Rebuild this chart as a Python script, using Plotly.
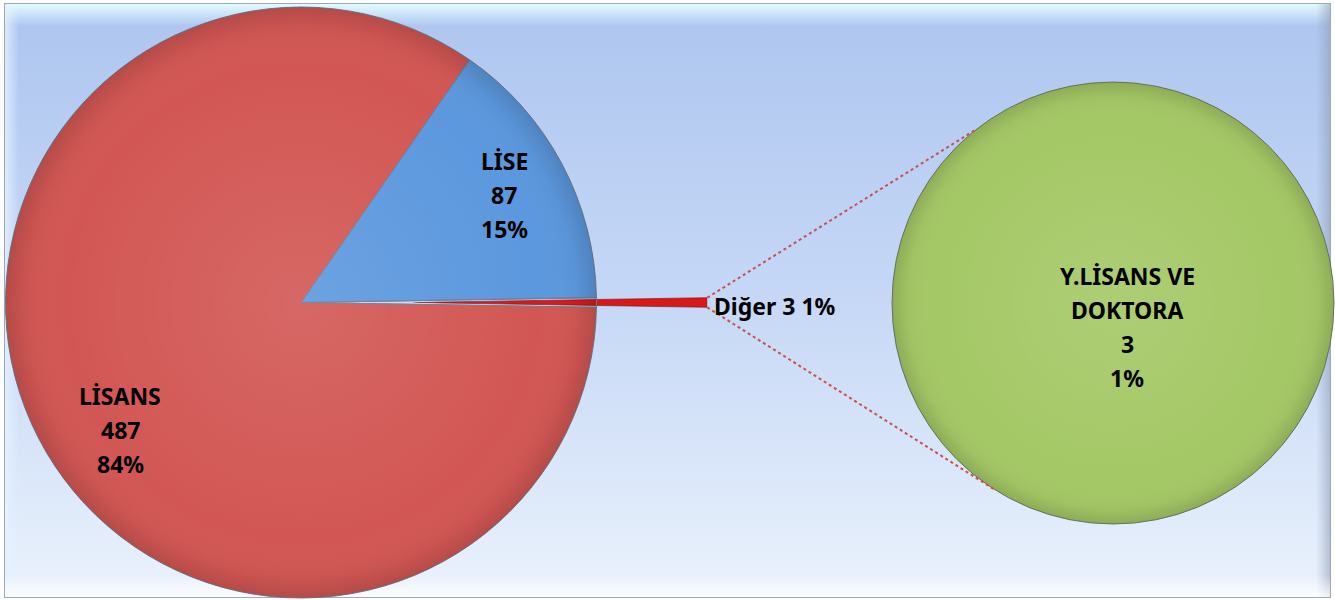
import base64
import math
import plotly.graph_objects as go

W, H = 1335, 600

# ---------------- data ----------------
main_labels = ["LİSE", "Diğer", "LİSANS"]
main_values = [87, 3, 487]
sub_labels = ["Y.LİSANS VE", "DOKTORA"]
sub_values = [3]

total = sum(main_values)
angles = [v / total * 360 for v in main_values]
pcts = [v / total * 100 for v in main_values]
sub_pcts = [v / total * 100 for v in sub_values]

# ---------------- geometry (pixels) ----------------
MAIN_CX, MAIN_CY, MAIN_R = 301, 302.5, 295.5
SUB_CX, SUB_CY, SUB_R = 1113, 303, 221
PULL = 0.375          # explosion of the "Diğer" slice (fraction of radius)
R_OUT = MAIN_R * (1 + PULL)
LINE_PITCH = 34

# LİSE above 3 o'clock, "Diğer" centred at 3 o'clock, LİSANS after (clockwise)
rotation = 90 - angles[1] / 2 - angles[0]


def px(x):
    return x / W


def py(y):
    return 1 - y / H


fig = go.Figure()

fig.add_trace(go.Pie(
    labels=main_labels, values=main_values, sort=False,
    direction="clockwise", rotation=rotation,
    marker=dict(colors=["#5C98DE", "rgba(0,0,0,0)", "#D25754"],
                line=dict(color="#6F7C8E", width=1)),
    textinfo="none", hoverinfo="label+value+percent", showlegend=False,
    domain=dict(x=[px(MAIN_CX - MAIN_R), px(MAIN_CX + MAIN_R)],
                y=[py(MAIN_CY + MAIN_R), py(MAIN_CY - MAIN_R)]),
))

# exploded "Diğer" slice: same slice, its apex moved out by PULL * radius
fig.add_trace(go.Barpolar(
    r=[1], theta=[0], width=[angles[1]],
    marker=dict(color="#D8191C", line=dict(color="#7A0A0A", width=0.6)),
    name=main_labels[1], showlegend=False, subplot="polar",
    hovertext=[f"{main_labels[1]} {main_values[1]}"], hoverinfo="text",
))

fig.add_trace(go.Pie(
    labels=[" ".join(sub_labels)], values=sub_values, sort=False,
    marker=dict(colors=["#A5C866"], line=dict(color="#6F7C6E", width=1)),
    textinfo="none", hoverinfo="label+value", showlegend=False,
    domain=dict(x=[px(SUB_CX - SUB_R), px(SUB_CX + SUB_R)],
                y=[py(SUB_CY + SUB_R), py(SUB_CY - SUB_R)]),
))

# ---------------- labels ----------------
font = dict(family="Noto Sans", size=23, color="#000000")
ann = []


def block(lines, cx, cy):
    n = len(lines)
    for k, t in enumerate(lines):
        y = cy + (k - (n - 1) / 2) * LINE_PITCH
        ann.append(dict(x=px(cx), y=py(y), xref="paper", yref="paper", showarrow=False,
                        text=f"<b>{t}</b>", font=font, xanchor="center", yanchor="middle"))


label_pos = {0: (504, 195), 2: (120, 430)}
for i, (x, y) in label_pos.items():
    block([main_labels[i], str(main_values[i]), f"{pcts[i]:.0f}%"], x, y)

ann.append(dict(x=px(712), y=py(306), xref="paper", yref="paper", showarrow=False,
                text=f"<b>{main_labels[1]} {main_values[1]} {max(1, round(pcts[1]))}%</b>",
                font=font, xanchor="left", yanchor="middle"))
block(sub_labels + [str(sub_values[0]), f"{max(1, round(sub_pcts[0]))}%"], 1127, 327)

# ---------------- connector lines ----------------
half = math.radians(angles[1] / 2)
tip_x = MAIN_CX + PULL * MAIN_R + MAIN_R * math.cos(half)
tip_up = (tip_x, MAIN_CY - MAIN_R * math.sin(half))
tip_dn = (tip_x, MAIN_CY + MAIN_R * math.sin(half))
a_up, a_dn = math.radians(128), math.radians(-122)
end_up = (SUB_CX + SUB_R * math.cos(a_up), SUB_CY - SUB_R * math.sin(a_up))
end_dn = (SUB_CX + SUB_R * math.cos(a_dn), SUB_CY - SUB_R * math.sin(a_dn))
shapes = []
for (x0, y0), (x1, y1) in [(tip_up, end_up), (tip_dn, end_dn)]:
    shapes.append(dict(type="line", xref="paper", yref="paper",
                       x0=px(x0), y0=py(y0), x1=px(x1), y1=py(y1),
                       line=dict(color="#C8504D", width=2, dash="dot")))

# ---------------- background & shading (svg) ----------------
bg_svg = f"""<svg xmlns='http://www.w3.org/2000/svg' width='{W}' height='{H}' viewBox='0 0 {W} {H}' preserveAspectRatio='none'>
<defs>
<linearGradient id='bg' x1='0' y1='0' x2='0' y2='1'>
<stop offset='0' stop-color='#ADC5EF'/><stop offset='0.5' stop-color='#C6D8F6'/><stop offset='1' stop-color='#EAF2FC'/>
</linearGradient>
<linearGradient id='tp' x1='0' y1='0' x2='0' y2='1'>
<stop offset='0' stop-color='#E2FCFF' stop-opacity='1'/><stop offset='1' stop-color='#E2FCFF' stop-opacity='0'/>
</linearGradient>
<linearGradient id='lf' x1='0' y1='0' x2='1' y2='0'>
<stop offset='0' stop-color='#E4F2FF' stop-opacity='0.8'/><stop offset='1' stop-color='#E4F2FF' stop-opacity='0'/>
</linearGradient>
<linearGradient id='rt' x1='0' y1='0' x2='1' y2='0'>
<stop offset='0' stop-color='#8C9AB4' stop-opacity='0'/><stop offset='1' stop-color='#8C9AB4' stop-opacity='0.55'/>
</linearGradient>
<linearGradient id='bt' x1='0' y1='0' x2='0' y2='1'>
<stop offset='0' stop-color='#FFFFFF' stop-opacity='0'/><stop offset='1' stop-color='#FFFFFF' stop-opacity='0.8'/>
</linearGradient>
</defs>
<rect width='{W}' height='{H}' fill='#FFFFFF'/>
<rect x='4.5' y='3.5' width='1326' height='594' fill='url(#bg)' stroke='#A0A8B8' stroke-width='1'/>
<rect x='5' y='4' width='1325' height='22' fill='url(#tp)'/>
<rect x='5' y='4' width='14' height='593' fill='url(#lf)'/>
<rect x='1316' y='4' width='14' height='593' fill='url(#rt)'/>
<rect x='5' y='575' width='1325' height='22' fill='url(#bt)'/>
</svg>"""

shade_svg = f"""<svg xmlns='http://www.w3.org/2000/svg' width='{W}' height='{H}' viewBox='0 0 {W} {H}' preserveAspectRatio='none'>
<defs>
<radialGradient id='sh' cx='0.5' cy='0.5' r='0.5'>
<stop offset='0' stop-color='#FFFFFF' stop-opacity='0.10'/>
<stop offset='0.8' stop-color='#FFFFFF' stop-opacity='0'/>
<stop offset='0.93' stop-color='#000000' stop-opacity='0.03'/>
<stop offset='1' stop-color='#000000' stop-opacity='0.14'/>
</radialGradient>
</defs>
<circle cx='{MAIN_CX}' cy='{MAIN_CY}' r='{MAIN_R}' fill='url(#sh)'/>
<circle cx='{SUB_CX}' cy='{SUB_CY}' r='{SUB_R}' fill='url(#sh)'/>
</svg>"""


def data_uri(svg):
    return "data:image/svg+xml;base64," + base64.b64encode(svg.encode("utf-8")).decode("ascii")


images = [
    dict(source=data_uri(bg_svg), xref="paper", yref="paper", x=0, y=1, sizex=1, sizey=1,
         sizing="stretch", xanchor="left", yanchor="top", layer="below"),
    dict(source=data_uri(shade_svg), xref="paper", yref="paper", x=0, y=1, sizex=1, sizey=1,
         sizing="stretch", xanchor="left", yanchor="top", layer="above"),
]

fig.update_layout(
    width=W, height=H,
    margin=dict(l=0, r=0, t=0, b=0),
    paper_bgcolor="#FFFFFF",
    plot_bgcolor="rgba(0,0,0,0)",
    showlegend=False,
    annotations=ann,
    shapes=shapes,
    images=images,
    polar=dict(
        domain=dict(x=[px(MAIN_CX + PULL * MAIN_R), px(MAIN_CX + R_OUT)],
                    y=[py(MAIN_CY + 40), py(MAIN_CY - 40)]),
        sector=[-3, 3], hole=0,
        bgcolor="rgba(0,0,0,0)",
        radialaxis=dict(visible=False, range=[0, 1]),
        angularaxis=dict(visible=False),
    ),
)

fig.write_html("out.html",
               config={"displayModeBar": False},
               post_script="document.body.style.margin='0';document.body.style.overflow='hidden';")
